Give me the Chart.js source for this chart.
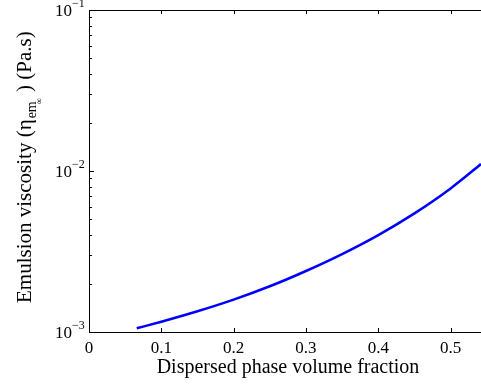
<!DOCTYPE html>
<html>
<head>
<meta charset="utf-8">
<script src="https://cdn.jsdelivr.net/npm/chart.js@4.4.1/dist/chart.umd.min.js"></script>
<style>
  html, body { margin: 0; padding: 0; background: #fff; }
  #wrap { width: 481px; height: 385px; }
</style>
</head>
<body>
<div id="wrap"><canvas id="ch" width="481" height="385"></canvas></div>
<script>
/* Emulsion viscosity vs dispersed phase volume fraction */
const phi = [0.066, 0.10, 0.15, 0.20, 0.25, 0.30, 0.35, 0.40, 0.45, 0.50, 0.542];
const visc = [1.054e-3, 1.159e-3, 1.346e-3, 1.590e-3, 1.923e-3, 2.393e-3, 3.048e-3, 3.999e-3, 5.458e-3, 7.798e-3, 1.104e-2];

const xTicks = [0, 0.1, 0.2, 0.3, 0.4, 0.5];
const xTickLabels = ['0', '0.1', '0.2', '0.3', '0.4', '0.5'];
const yDecades = [-3, -2, -1];

const FONT = '"Liberation Serif", "Times New Roman", serif';

// axes box, inward ticks, labels and titles - drawn from the chart's own scales
const matlabAxes = {
  id: 'matlabAxes',
  afterDraw(chart) {
    const ctx = chart.ctx;
    const xs = chart.scales.x, ys = chart.scales.y;
    const a = chart.chartArea;
    ctx.save();
    ctx.strokeStyle = '#000';
    ctx.fillStyle = '#000';
    ctx.lineWidth = 1;

    // box (right edge falls outside the canvas)
    ctx.beginPath();
    ctx.moveTo(a.right + 1, a.top + 0.5);
    ctx.lineTo(a.left + 0.5, a.top + 0.5);
    ctx.lineTo(a.left + 0.5, a.bottom + 0.5);
    ctx.lineTo(a.right + 1, a.bottom + 0.5);
    ctx.stroke();

    // x ticks (bottom and top, pointing in)
    ctx.beginPath();
    xTicks.forEach(v => {
      const px = Math.round(xs.getPixelForValue(v)) + 0.5;
      if (v === 0) return;
      ctx.moveTo(px, a.bottom); ctx.lineTo(px, a.bottom - 4);
      ctx.moveTo(px, a.top); ctx.lineTo(px, a.top + 4);
    });
    // y ticks, major and minor
    yDecades.forEach((d, i) => {
      const py = Math.round(ys.getPixelForValue(Math.pow(10, d))) + 0.5;
      ctx.moveTo(a.left, py); ctx.lineTo(a.left + 5, py);
      if (i < yDecades.length - 1) {
        for (let m = 2; m <= 9; m++) {
          const pm = Math.round(ys.getPixelForValue(m * Math.pow(10, d))) + 0.5;
          ctx.moveTo(a.left, pm); ctx.lineTo(a.left + 3, pm);
        }
      }
    });
    ctx.stroke();

    // x tick labels
    ctx.font = '17px ' + FONT;
    ctx.textAlign = 'center';
    ctx.textBaseline = 'alphabetic';
    xTicks.forEach((v, i) => {
      ctx.fillText(xTickLabels[i], xs.getPixelForValue(v), a.bottom + 21);
    });

    // y tick labels 10^k
    yDecades.forEach(d => {
      const py = ys.getPixelForValue(Math.pow(10, d));
      ctx.textAlign = 'left';
      ctx.font = '17px ' + FONT;
      ctx.fillText('10', 55, py + 6);
      ctx.font = '12px ' + FONT;
      ctx.fillText('\u2212' + Math.abs(d), 72, py - 3);
    });

    // x title
    ctx.font = '20px ' + FONT;
    ctx.textAlign = 'center';
    ctx.fillText('Dispersed phase volume fraction', 288, 373);

    // y title, rotated, with subscripts
    ctx.translate(31, 303);
    ctx.rotate(-Math.PI / 2);
    ctx.textAlign = 'left';
    let x = 0;
    ctx.font = '21px ' + FONT;
    const s1 = 'Emulsion viscosity (\u03b7';
    ctx.fillText(s1, x, 0);
    x += ctx.measureText(s1).width + 1;
    ctx.font = '14px ' + FONT;
    ctx.fillText('em', x, 5);
    const wEm = ctx.measureText('em').width;
    ctx.font = '9px ' + FONT;
    ctx.fillText('\u221e', x + wEm - 3, 11);
    x += wEm + 4;
    ctx.font = '21px ' + FONT;
    ctx.fillText(' ) (Pa.s)', x, 0);
    ctx.restore();
  }
};

new Chart(document.getElementById('ch'), {
  type: 'line',
  data: {
    datasets: [{
      data: phi.map((v, i) => ({ x: v, y: visc[i] })),
      borderColor: '#0000ff',
      borderWidth: 2.5,
      pointRadius: 0,
      fill: false,
      cubicInterpolationMode: 'monotone'
    }]
  },
  options: {
    responsive: false,
    animation: false,
    events: [],
    layout: { padding: { left: 89, top: 10, right: 0, bottom: 53 } },
    plugins: { legend: { display: false }, tooltip: { enabled: false } },
    scales: {
      x: { type: 'linear', min: 0, max: 0.542, display: false },
      y: { type: 'logarithmic', min: 1e-3, max: 1e-1, display: false }
    }
  },
  plugins: [matlabAxes]
});
</script>
</body>
</html>
